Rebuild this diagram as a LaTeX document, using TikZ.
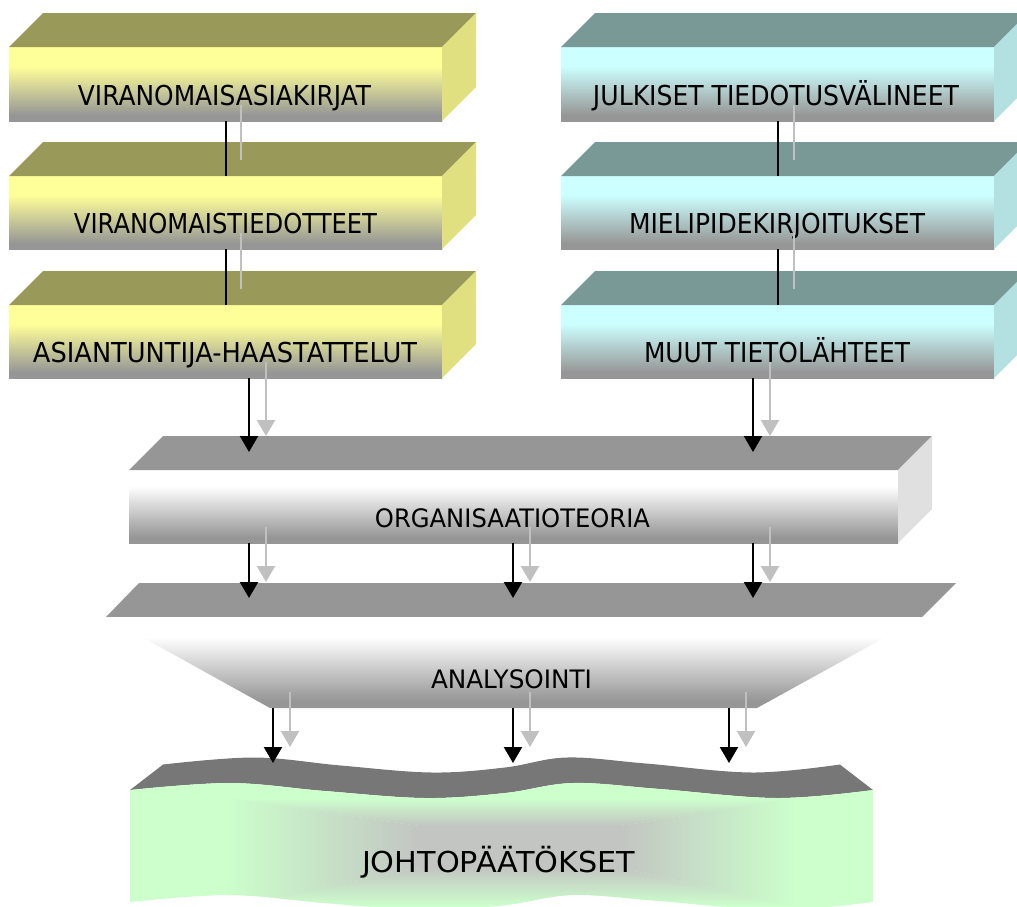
\documentclass[tikz,border=0pt]{standalone}
\usepackage{fontspec}
\setmainfont{DejaVu Sans}
\usepackage{graphicx}
\usetikzlibrary{arrows.meta,calc}

% colours of the slabs
\definecolor{facegrey}{HTML}{969696}
\definecolor{yfront}{HTML}{FFFF99}
\definecolor{ytopface}{HTML}{99995A}
\definecolor{yside}{HTML}{E0E080}
\definecolor{cfront}{HTML}{CCFFFF}
\definecolor{ctopface}{HTML}{789996}
\definecolor{cside}{HTML}{B3E0E0}
\definecolor{wfront}{HTML}{FFFFFF}
\definecolor{gside}{HTML}{E0E0E0}
\definecolor{bandgrey}{HTML}{777777}
\definecolor{leafgreen}{HTML}{CCFFCC}
\definecolor{coregrey}{HTML}{C2C5C2}
\definecolor{shadowgrey}{HTML}{C0C0C0}

% front faces: light colour on top, fading to grey at the bottom
\pgfdeclareverticalshading{yellowface}{100bp}{color(0bp)=(facegrey); color(29bp)=(facegrey); color(62bp)=(yfront); color(100bp)=(yfront)}
\pgfdeclareverticalshading{cyanface}{100bp}{color(0bp)=(facegrey); color(29bp)=(facegrey); color(62bp)=(cfront); color(100bp)=(cfront)}
\pgfdeclareverticalshading{whiteface}{100bp}{color(0bp)=(facegrey); color(29bp)=(facegrey); color(64bp)=(wfront); color(100bp)=(wfront)}

\tikzset{
  front/.style={shade, inner sep=0pt, outer sep=0pt},
  anchorbox/.style={inner sep=0pt, outer sep=0pt},
  slabtext/.style={anchor=base, inner sep=0pt, text=black},
  link/.style={line width=2pt},
  shadowlink/.style={shadowgrey, line width=2pt},
  feedarrow/.style={line width=2.2pt, -{Triangle[width=18pt,length=16pt]}},
  shadowarrow/.style={shadowgrey, line width=2.2pt, -{Triangle[width=18pt,length=16pt]}},
}

% a box in cabinet view: name, cx, cy, width, height, shading, top colour, side colour
\newcommand\slab[8]{%
  \node[front, shading=#6, minimum width=#4pt, minimum height=#5pt] (#1) at (#2,#3) {};
  \fill[#7] (#1.north west) -- ++(34,-34) -- ($(#1.north east)+(34,-34)$) -- (#1.north east) -- cycle;
  \fill[#8] (#1.north east) -- ++(34,-34) -- ($(#1.south east)+(34,-34)$) -- (#1.south east) -- cycle;
}
% a label: name, x, baseline, width, font size, text
\newcommand\slablabel[6]{%
  \node[slabtext] (#1) at (#2,#3) {\resizebox{#4pt}{\height}{\fontsize{#5}{#5}\selectfont #6}};
}
% plain link between stacked boxes, with its grey shadow
\newcommand\stacklink[3]{%
  \draw[shadowlink] ($(#1.south)+(#3,-16)$) -- ($(#2.north)+(#3,-16)$);
  \draw[link] (#1.south) -- (#2.north);
}
% arrow on column #1 from node #2 down to #4 above node #3, with its grey shadow
\newcommand\feed[4]{%
  \draw[shadowarrow] ($(#1 |- #2.south)+(17,-16)$) -- ($(#1 |- #3.north)+(17,-#4-16)$);
  \draw[feedarrow] (#1 |- #2.south) -- ($(#1 |- #3.north)+(0,-#4)$);
}
% outline of the sheet front
\newcommand\leafpath{plot[smooth, tension=0.6] coordinates {(130,790) (230,783) (325,791) (425,798) (505,793) (573,783) (660,789) (777,798) (873,790)}
  -- plot[smooth, tension=0.6] coordinates {(873,902) (777,910) (660,901) (573,895) (505,905) (425,910) (325,903) (230,895) (130,902)} -- cycle}

\begin{document}
\begin{tikzpicture}[x=1pt,y=-1pt]
\useasboundingbox (0,0) rectangle (1017,906);
\clip (0,0) rectangle (1017,906);

% source boxes, left column
\slab{l1}{225.5}{84}{433}{74}{yellowface}{ytopface}{yside}
\slab{l2}{225.5}{212.5}{433}{73}{yellowface}{ytopface}{yside}
\slab{l3}{225.5}{341.5}{433}{73}{yellowface}{ytopface}{yside}
% source boxes, right column
\slab{r1}{777.5}{84}{433}{74}{cyanface}{ctopface}{cside}
\slab{r2}{777.5}{212.5}{433}{73}{cyanface}{ctopface}{cside}
\slab{r3}{777.5}{341.5}{433}{73}{cyanface}{ctopface}{cside}
% theory slab
\slab{org}{513.5}{506.5}{769}{73}{whiteface}{facegrey}{gside}

% analysis funnel
\node[anchorbox, minimum width=816pt, minimum height=91pt] (ana) at (514,662.5) {};
\fill[facegrey] (ana.north west) -- ++(33,-34) -- ($(ana.north east)+(34,-34)$) -- (ana.north east) -- cycle;
\shade[shading=whiteface] (ana.north west) -- (ana.north east) -- ($(ana.south east)+(-165,0)$) -- ($(ana.south west)+(164,0)$) -- cycle;

% conclusions: a waving sheet
\node[anchorbox, minimum width=743pt, minimum height=112pt] (conc) at (501.5,846) {};
\fill[bandgrey] plot[smooth, tension=0.6] coordinates {(130,790) (230,783) (325,791) (425,798) (505,793) (573,783) (660,789) (777,798) (873,790)}
  -- plot[smooth, tension=0.6] coordinates {(839.9,764.5) (752.5,772.5) (645.9,763.5) (566.6,757.5) (505,767.5) (431.8,772.5) (340.7,765.5) (254.2,757.5) (163.1,764.5)} -- cycle;
% sheet front: rectangular gradient, grey core fading to green
\begin{scope}
  \clip \leafpath;
  \fill[leafgreen] (120,750) rectangle (890,920);
  \shade[top color=leafgreen, bottom color=coregrey] (225,798) -- (795,798) -- (620,826) -- (420,826) -- cycle;
  \shade[top color=coregrey, bottom color=leafgreen] (420,868) -- (620,868) -- (795,906) -- (225,906) -- cycle;
  \shade[left color=leafgreen, right color=coregrey] (225,798) -- (420,826) -- (420,868) -- (225,906) -- cycle;
  \shade[left color=coregrey, right color=leafgreen] (620,826) -- (795,798) -- (795,906) -- (620,868) -- cycle;
  \fill[coregrey] (419.5,825.5) rectangle (620.5,868.5);
\end{scope}

% labels
\slablabel{t1}{224.5}{105}{293}{27.4}{VIRANOMAISASIAKIRJAT}
\slablabel{t2}{225.5}{233}{303}{27.4}{VIRANOMAISTIEDOTTEET}
\slablabel{t3}{225}{362}{384}{27.4}{ASIANTUNTIJA-HAASTATTELUT}
\slablabel{u1}{776}{105}{366}{27.4}{JULKISET TIEDOTUSVÄLINEET}
\slablabel{u2}{777}{233}{296}{27.4}{MIELIPIDEKIRJOITUKSET}
\slablabel{u3}{777}{362}{266}{27.4}{MUUT TIETOLÄHTEET}
\slablabel{torg}{512.5}{527}{275}{25.4}{ORGANISAATIOTEORIA}
\slablabel{tana}{511.5}{688}{161}{25.4}{ANALYSOINTI}
\slablabel{tconc}{498.5}{872}{273}{28.8}{JOHTOPÄÄTÖKSET}

% links inside the columns
\stacklink{l1}{l2}{15}
\stacklink{l2}{l3}{15}
\stacklink{r1}{r2}{16}
\stacklink{r2}{r3}{16}

% columns of the arrows
\coordinate (xa) at (249,0);
\coordinate (xb) at (513,0);
\coordinate (xc) at (753,0);
\coordinate (xd) at (273,0);
\coordinate (xe) at (729,0);

% sources into the theory
\feed{xa}{l3}{org}{18}
\feed{xc}{r3}{org}{18}
% theory into the analysis
\feed{xa}{org}{ana}{19}
\feed{xb}{org}{ana}{19}
\feed{xc}{org}{ana}{19}
% analysis into the conclusions
\feed{xd}{ana}{conc}{27}
\feed{xb}{ana}{conc}{27}
\feed{xe}{ana}{conc}{27}
\end{tikzpicture}
\end{document}
